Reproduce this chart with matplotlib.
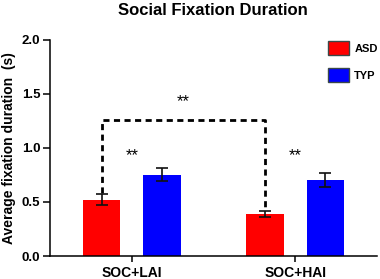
import numpy as np
import matplotlib.pyplot as plt
from matplotlib.patches import Patch

plt.rcParams['font.family'] = ['Liberation Sans', 'DejaVu Sans']
plt.rcParams['font.weight'] = 'bold'

conditions = ['SOC+LAI', 'SOC+HAI']
groups = ['ASD', 'TYP']
asd_mean = [0.52, 0.39]
asd_err = [0.05, 0.03]
typ_mean = [0.75, 0.70]
typ_err = [0.06, 0.065]
colors = ['#FF0000', '#0000FF']

fig = plt.figure(figsize=(3.8, 2.79), dpi=100)
ax = fig.add_axes([0.1316, 0.0824, 0.8604, 0.7746])

x = np.arange(len(conditions))
w = 0.232
off = 0.185
err_kw = dict(ecolor='#111111', elinewidth=1.2, capsize=4.5, capthick=1.2)
ax.bar(x - off, asd_mean, w, yerr=asd_err, color=colors[0], error_kw=err_kw, zorder=2)
ax.bar(x + off, typ_mean, w, yerr=typ_err, color=colors[1], error_kw=err_kw, zorder=2)

# significance bracket between ASD bars
x1, x2 = x[0] - off, x[1] - off
ytop = 1.26
ax.plot([x1, x1, x2, x2],
        [asd_mean[0] + asd_err[0] + 0.01, ytop, ytop, asd_mean[1] + asd_err[1] + 0.01],
        color='black', lw=2, ls=(0, (2.2, 1.6)), zorder=1)
ax.text((x1 + x2) / 2, 1.43, '**', ha='center', va='center', fontsize=12, fontweight='normal')
for xi in x:
    ax.text(xi, 0.93, '**', ha='center', va='center', fontsize=12, fontweight='normal')

ax.set_xlim(-0.5, 1.5)
ax.set_ylim(0, 2.0)
ax.set_yticks([0, 0.5, 1.0, 1.5, 2.0])
ax.set_yticklabels(['0.0', '0.5', '1.0', '1.5', '2.0'], fontsize=9.5, fontweight='bold')
ax.set_xticks(x)
ax.set_xticklabels(conditions, fontsize=10, fontweight='bold')
ax.tick_params(axis='y', length=5, width=1.1, pad=2)
ax.tick_params(axis='x', length=4, width=1.1, pad=3)
for s in ['top', 'right']:
    ax.spines[s].set_visible(False)
for s in ['left', 'bottom']:
    ax.spines[s].set_linewidth(1.1)

ax.set_ylabel('Average fixation duration  (s)', fontsize=10, fontweight='bold', labelpad=4)
fig.text(0.561, 0.962, 'Social Fixation Duration', ha='center', va='center',
         fontsize=12, fontweight='bold')

handles = [Patch(facecolor=c, edgecolor='#3a4848', lw=1) for c in colors]
fig.legend(handles, groups, loc='upper left', bbox_to_anchor=(0.862, 0.852),
           frameon=False, fontsize=8, handlelength=1.9, handleheight=1.5,
           labelspacing=1.2, handletextpad=0.5, borderpad=0, borderaxespad=0)

fig.savefig('out.png', dpi=100)
